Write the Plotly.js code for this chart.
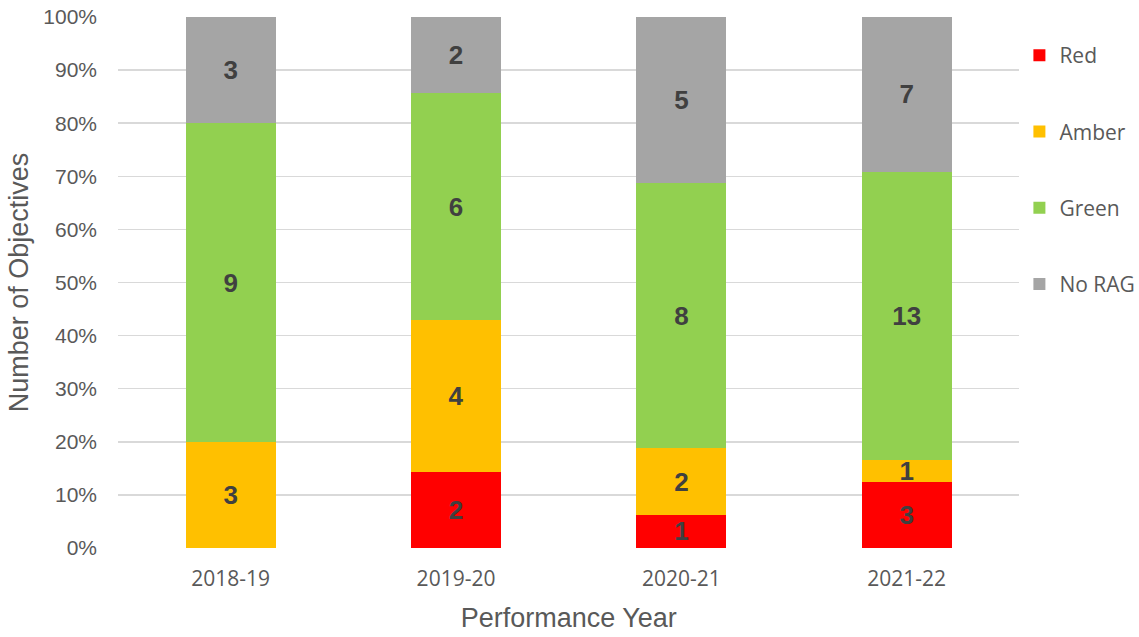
<!DOCTYPE html>
<html><head><meta charset="utf-8">
<script src="https://cdn.plot.ly/plotly-3.0.1.min.js"></script>
<style>html,body{margin:0;padding:0;background:#fff}#c{width:1139px;height:637px}</style>
</head><body><div id="c"></div>
<script>
const years = ['2018-19','2019-20','2020-21','2021-22'];
const red = [0,2,1,3];
const amber = [3,4,2,1];
const green = [9,6,8,13];
const noRag = [3,2,5,7];
const seriesNames = ['Red','Amber','Green','No RAG'];
const seriesColors = ['#FF0000','#FFC000','#92D050','#A5A5A5'];
const yTicks = [0,10,20,30,40,50,60,70,80,90,100];
const yTickText = yTicks.map(v => v + '%');

const allSeries = [red, amber, green, noRag];
const traces = allSeries.map((vals, i) => ({
  type: 'bar',
  name: seriesNames[i],
  x: years,
  y: vals,
  text: vals.map(v => v === 0 ? '' : String(v)),
  textposition: 'inside',
  insidetextanchor: 'middle',
  constraintext: 'none',
  textangle: 0,
  textfont: {family: 'Liberation Sans, Arial, sans-serif', size: 26, color: '#404040', weight: 'bold'},
  marker: {color: seriesColors[i], line: {width: 0}},
  width: 0.4,
  legendgroup: 'g' + i,
  hoverinfo: 'none'
}));

const layout = {
  width: 1139, height: 637,
  margin: {l: 118, r: 117, t: 17, b: 89},
  barmode: 'stack',
  barnorm: 'percent',
  paper_bgcolor: '#fff', plot_bgcolor: '#fff',
  showlegend: true,
  legend: {
    xref: 'container', yref: 'container',
    x: 0.895, y: 0.945, xanchor: 'left', yanchor: 'top',
    traceorder: 'grouped', tracegroupgap: 46,
    font: {family: 'Open Sans, sans-serif', size: 21, color: '#595959'},
    itemwidth: 30
  },
  xaxis: {
    type: 'category',
    automargin: false,
    tickfont: {family: 'Open Sans, sans-serif', size: 21, color: '#595959'},
    ticks: '', showgrid: false, zeroline: false, showline: false,
    ticklabelstandoff: 16,
    title: {text: 'Performance Year', font: {family: 'Liberation Sans, Arial, sans-serif', size: 27, color: '#595959'}, standoff: 17}
  },
  yaxis: {
    range: [0, 100],
    automargin: false,
    tickvals: yTicks, ticktext: yTickText,
    tickfont: {family: 'Liberation Sans, Arial, sans-serif', size: 21, color: '#595959'},
    showgrid: true, gridcolor: '#D9D9D9', gridwidth: 1.5,
    zeroline: false, showline: false, ticks: '',
    ticklabelstandoff: 20,
    title: {text: 'Number of Objectives', font: {family: 'Liberation Sans, Arial, sans-serif', size: 27, color: '#595959'}, standoff: 6}
  }
};
Plotly.newPlot('c', traces, layout, {displayModeBar: false, staticPlot: true});
</script></body></html>
